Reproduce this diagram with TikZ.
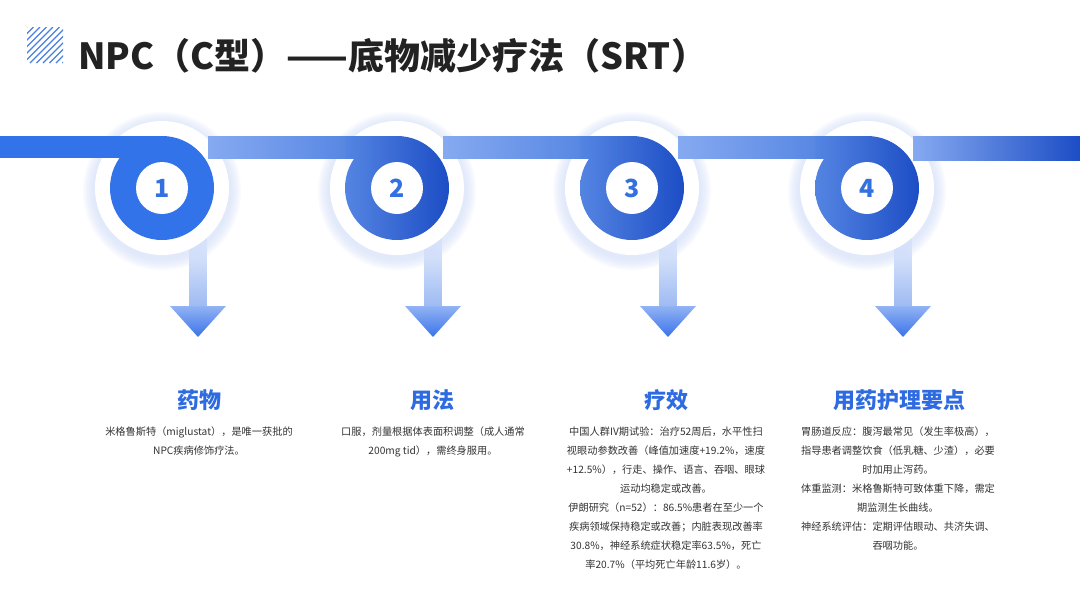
\documentclass[tikz,border=0pt]{standalone}
\usepackage{fontspec}
\setmainfont{Noto Sans CJK SC}
\usetikzlibrary{calc}
\definecolor{bandA}{HTML}{3373E9}
\definecolor{lightband}{HTML}{86AAF1}
\definecolor{midband}{HTML}{5585E2}
\definecolor{darkband}{HTML}{1C4DC5}
\definecolor{headblue}{HTML}{2E6BE0}
\definecolor{numblue}{HTML}{3370E0}
\definecolor{bodygray}{HTML}{333333}
\definecolor{titlegray}{HTML}{222222}
\definecolor{glowc}{HTML}{D2DFFA}
\definecolor{hatchc}{HTML}{4A80E0}
\definecolor{shafttop}{HTML}{F0F4FD}
\definecolor{shaftbot}{HTML}{9DBAF3}
\definecolor{headtop}{HTML}{92B3F4}
\definecolor{headbot}{HTML}{3A73EA}
\begin{document}
\begin{tikzpicture}[x=1pt,y=-1pt,
  numcircle/.style={circle,fill=white,minimum size=52pt,inner sep=0pt,text=numblue,font=\bfseries\fontsize{25}{25}\selectfont},
  headtext/.style={text=headblue,font=\bfseries\fontsize{22}{22}\selectfont,inner sep=0pt},
  bodytext/.style={text=bodygray,font=\fontsize{10.2}{19}\selectfont,align=center,inner sep=0pt,anchor=north},
  titletext/.style={text=titlegray,font=\bfseries\fontsize{36}{36}\selectfont,inner sep=0pt,anchor=west},
  shaftbox/.style={top color=shafttop,bottom color=shaftbot},
  headtri/.style={top color=headtop,bottom color=headbot},
  ringbox/.style={fill=white},
]
\useasboundingbox (0,0) rectangle (1080,608);
\fill[white] (0,0) rectangle (1080,608);

% hatch square
\begin{scope}
  \clip (27,27) rectangle (63,63);
  \foreach \k in {0,...,11} {
    \draw[hatchc,line width=1.2pt] ({27-36+\k*6.5},63) -- ++(36,-36);
  }
\end{scope}
\node[titletext] (title) at (78,56) {NPC（C型）——底物减少疗法（SRT）};

% arrow shafts (under rings)
\foreach \cx in {162,397,632,867} {
  \shade[shaftbox] ({\cx+36-8.5},230) rectangle ({\cx+36+8.5},307);
}

% glows and white rings
\foreach \cx in {162,397,632,867} {
  \foreach \r in {79,77,...,68} {
    \fill[glowc,opacity=0.15] (\cx,191) circle[radius=\r pt];
  }
  \fill[ringbox] (\cx,188) circle[radius=67pt];
}

% band segments
\fill[bandA] (0,136) rectangle (162,158);
\foreach \cx/\nx in {162/397,397/632,632/867} {
  \shade[left color=lightband,right color=midband] ({\cx+46},136) rectangle ({\nx-42},158);
}
\shade[left color=lightband,right color=darkband] (913,136) rectangle (1080,160);

% disks
\fill[bandA] (162,188) circle[radius=52pt];
\foreach \cx in {397,632,867} {
  \shade[left color=midband,right color=midband!50!darkband] ({\cx-52},136) rectangle (\cx,158);
  \shade[left color=midband,right color=darkband] (\cx,188) circle[radius=52pt];
}

% number circles
\node[numcircle] (n1) at (162,188) {1};
\node[numcircle] (n2) at (397,188) {2};
\node[numcircle] (n3) at (632,188) {3};
\node[numcircle] (n4) at (867,188) {4};

% arrow heads
\foreach \n in {n1,n2,n3,n4} {
  \shade[headtri] ($(\n.center)+(36-28,118)$) -- ($(\n.center)+(36+28,118)$) -- ($(\n.center)+(36,149)$) -- cycle;
}

% headings
\node[headtext] (h1) at (199,400) {药物};
\node[headtext] (h2) at (432,400) {用法};
\node[headtext] (h3) at (666,400) {疗效};
\node[headtext] (h4) at (899,400) {用药护理要点};

% bodies
\node[bodytext] (b1) at (199,427) {米格鲁斯特（miglustat），是唯一获批的\\NPC疾病修饰疗法。};
\node[bodytext] (b2) at (433,427) {口服，剂量根据体表面积调整（成人通常\\200mg tid），需终身服用。};
\node[bodytext] (b3) at (666,427) {中国人群IV期试验：治疗52周后，水平性扫\\视眼动参数改善（峰值加速度+19.2\%，速度\\+12.5\%），行走、操作、语言、吞咽、眼球\\运动均稳定或改善。\\伊朗研究（n=52）：86.5\%患者在至少一个\\疾病领域保持稳定或改善；内脏表现改善率\\30.8\%，神经系统症状稳定率63.5\%，死亡\\率20.7\%（平均死亡年龄11.6岁）。};
\node[bodytext] (b4) at (898,427) {胃肠道反应：腹泻最常见（发生率极高），\\指导患者调整饮食（低乳糖、少渣），必要\\时加用止泻药。\\体重监测：米格鲁斯特可致体重下降，需定\\期监测生长曲线。\\神经系统评估：定期评估眼动、共济失调、\\吞咽功能。};
\end{tikzpicture}
\end{document}
